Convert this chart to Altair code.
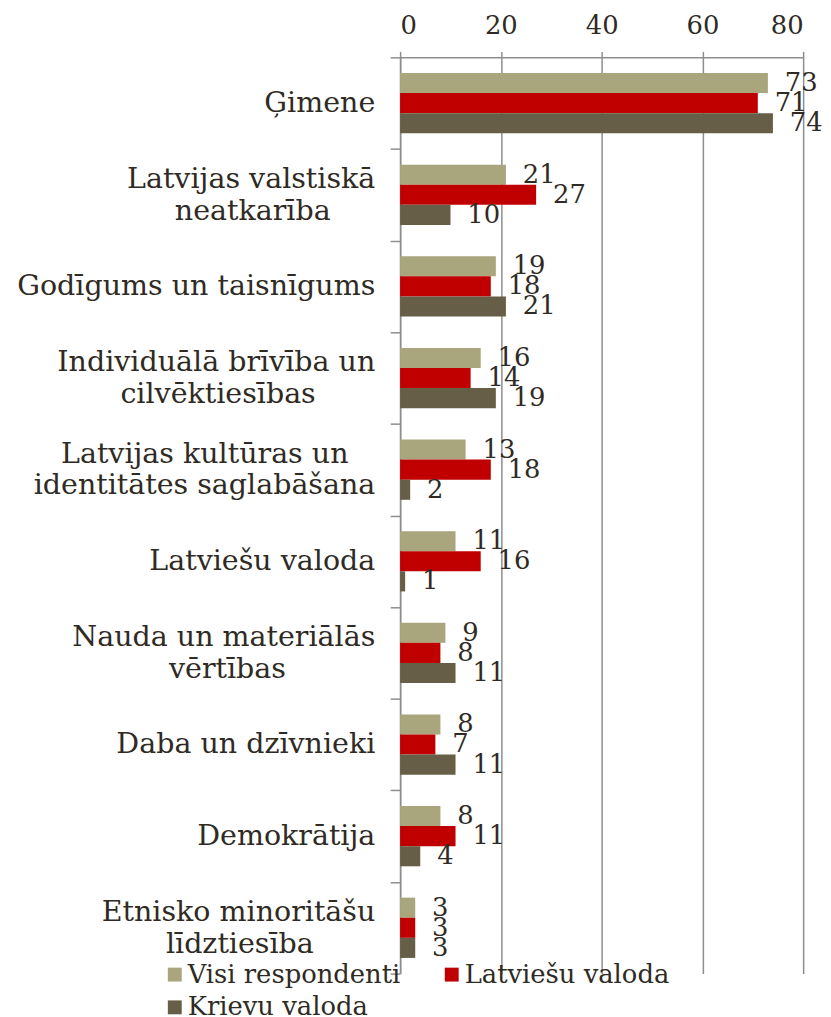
import altair as alt
import pandas as pd

categories = [
    "Ģimene",
    "Latvijas valstiskā neatkarība",
    "Godīgums un taisnīgums",
    "Individuālā brīvība un cilvēktiesības",
    "Latvijas kultūras un identitātes saglabāšana",
    "Latviešu valoda",
    "Nauda un materiālās vērtības",
    "Daba un dzīvnieki",
    "Demokrātija",
    "Etnisko minoritāšu līdztiesība",
]
# how each category label is broken into lines
label_line1 = [
    "Ģimene",
    "Latvijas valstiskā",
    "Godīgums un taisnīgums",
    "Individuālā brīvība un",
    "Latvijas kultūras un",
    "Latviešu valoda",
    "Nauda un materiālās",
    "Daba un dzīvnieki",
    "Demokrātija",
    "Etnisko minoritāšu",
]
label_line2 = [
    "",
    "neatkarība",
    "",
    "cilvēktiesības",
    "identitātes saglabāšana",
    "",
    "vērtības",
    "",
    "",
    "līdztiesība",
]
# horizontal nudge (px) that centres the shorter line of a two-line label
shift1 = [0, 0, 0, 0, -27, 0, 0, 0, 0, 0]
shift2 = [0, -45, 0, -60, 0, 0, -90, 0, 0, -62]

series = ["Visi respondenti", "Latviešu valoda", "Krievu valoda"]
visi = [73, 21, 19, 16, 13, 11, 9, 8, 8, 3]
latviesu = [71, 27, 18, 14, 18, 16, 8, 7, 11, 3]
krievu = [74, 10, 21, 19, 2, 1, 11, 11, 4, 3]
colors = ["#A9A57D", "#C00000", "#675E47"]
x_ticks = [0, 20, 40, 60, 80]

rows = []
for s, vals in zip(series, [visi, latviesu, krievu]):
    for c, v in zip(categories, vals):
        rows.append({"cat": c, "series": s, "value": v})
df = pd.DataFrame(rows)

df_lab = pd.DataFrame(
    {
        "cat": categories,
        "l1": label_line1,
        "l2": label_line2,
        "s1": shift1,
        "s2": shift2,
        "two": [1 if l2 else 0 for l2 in label_line2],
    }
)

FONT = "DejaVu Serif"
TXT = "#2f2b24"
GRID = "#8e8e8e"

y_enc = alt.Y(
    "cat:N",
    sort=categories,
    scale=alt.Scale(paddingInner=0, paddingOuter=0),
    axis=alt.Axis(
        title=None,
        orient="left",
        tickBand="extent",
        tickSize=10,
        tickColor=GRID,
        tickWidth=1.5,
        domainColor=GRID,
        domainWidth=1.5,
        labels=False,
        grid=False,
    ),
)
yoff_enc = alt.YOffset(
    "series:N",
    sort=series,
    scale=alt.Scale(paddingInner=0, paddingOuter=0.78),
)
x_enc = alt.X(
    "value:Q",
    scale=alt.Scale(domain=[0, 80], nice=False),
    axis=alt.Axis(
        title=None,
        orient="top",
        values=x_ticks,
        tickSize=6,
        tickColor=GRID,
        tickWidth=1.5,
        domainColor=GRID,
        domainWidth=1.5,
        grid=True,
        gridColor=GRID,
        gridWidth=1.5,
        labelFont=FONT,
        labelFontSize=26,
        labelColor=TXT,
        labelPadding=13,
    ),
)

bars = alt.Chart(df).mark_bar().encode(
    x=x_enc,
    y=y_enc,
    yOffset=yoff_enc,
    color=alt.Color(
        "series:N",
        sort=series,
        scale=alt.Scale(domain=series, range=colors),
        legend=alt.Legend(
            title=None,
            orient="none",
            direction="horizontal",
            legendX=-240,
            legendY=911,
            columns=2,
            columnPadding=38,
            rowPadding=7,
            symbolType="square",
            symbolSize=196,
            symbolStrokeWidth=0,
            labelFont=FONT,
            labelFontSize=26,
            labelColor=TXT,
            labelOffset=0,
            labelLimit=400,
        ),
    ),
)

values = alt.Chart(df).mark_text(
    align="left", baseline="middle", dx=17, font=FONT, fontSize=26, color=TXT
).encode(
    x="value:Q",
    y=alt.Y("cat:N", sort=categories),
    yOffset=alt.YOffset("series:N", sort=series),
    text="value:Q",
)

lab_base = alt.Chart(df_lab)
lab_kw = dict(align="right", baseline="middle", font=FONT, fontSize=28.7, color=TXT)
single = lab_base.transform_filter("datum.two == 0").mark_text(**lab_kw).encode(
    x=alt.value(-25), y=alt.Y("cat:N", sort=categories), text="l1:N"
)
first = lab_base.transform_filter("datum.two == 1").mark_text(
    dy=-16, dx=alt.expr("datum.s1"), **lab_kw
).encode(x=alt.value(-25), y=alt.Y("cat:N", sort=categories), text="l1:N")
second = lab_base.transform_filter("datum.two == 1").mark_text(
    dy=16, dx=alt.expr("datum.s2"), **lab_kw
).encode(x=alt.value(-25), y=alt.Y("cat:N", sort=categories), text="l2:N")

chart = (
    alt.layer(bars, values, single, first, second)
    .properties(
        width=406,
        height=923,
        autosize=alt.AutoSizeParams(type="none"),
        padding={"left": 395, "top": 46, "right": 20, "bottom": 40},
        background="white",
    )
    .configure_view(stroke=None)
)

chart.save("out.html", embed_options={"renderer": "svg", "actions": False})
